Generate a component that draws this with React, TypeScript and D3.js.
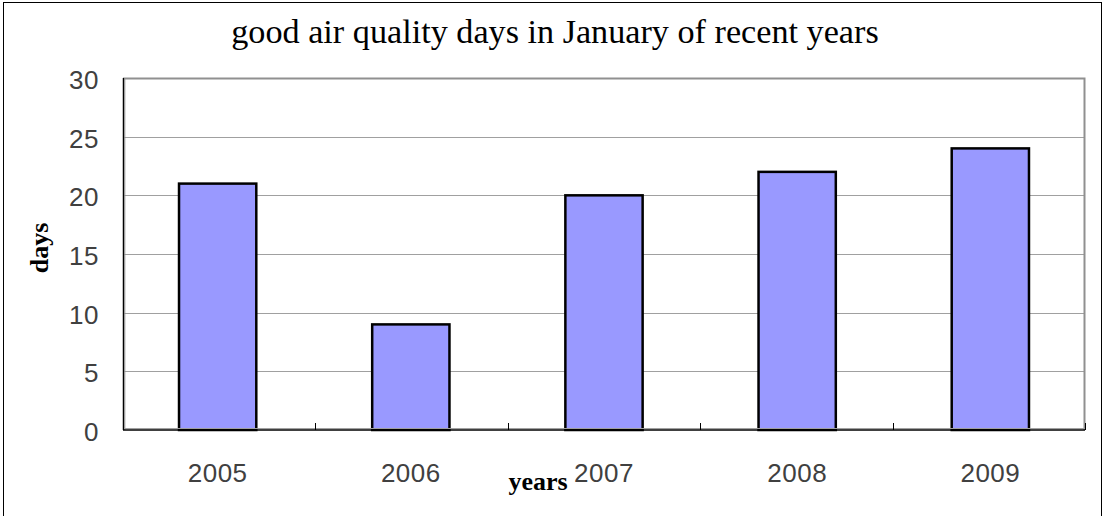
import * as d3 from "d3";

const years = ["2005", "2006", "2007", "2008", "2009"];
const goodDays = [21, 9, 20, 22, 24];
const yTicks = [0, 5, 10, 15, 20, 25, 30];

const W = 1105;
const H = 516;
const margin = { top: 78, right: 20, bottom: 86, left: 123 };

export default function App() {
  const innerW = W - margin.left - margin.right;
  const innerH = H - margin.top - margin.bottom;

  const x = d3
    .scaleBand<string>()
    .domain(years)
    .range([0, innerW])
    .paddingInner(0.6)
    .paddingOuter(0.29);

  const y = d3.scaleLinear().domain([0, 30]).range([innerH, 0]);

  // category boundaries for the little ticks on the bottom axis
  const step = innerW / years.length;
  const boundaries = d3.range(years.length + 1).map((i) => i * step);

  const tickFont = "'Liberation Sans', Arial, sans-serif";
  const serif = "'Liberation Serif', 'Times New Roman', serif";

  return (
    <svg
      width={W}
      height={H}
      style={{ position: "fixed", left: 0, top: 0, background: "#fff" }}
    >
      {/* outer chart frame */}
      <rect
        x={3.5}
        y={2.5}
        width={1098}
        height={530}
        fill="#fff"
        stroke="#000"
        strokeWidth={1}
      />

      <text
        x={555}
        y={43}
        textAnchor="middle"
        fontFamily={serif}
        fontSize={34.2}
        fill="#000"
      >
        good air quality days in January of recent years
      </text>

      <g transform={`translate(${margin.left},${margin.top})`}>
        {/* grid lines */}
        {yTicks.slice(1).map((t) => (
          <line
            key={t}
            x1={0}
            x2={innerW}
            y1={Math.round(y(t)) + 0.5}
            y2={Math.round(y(t)) + 0.5}
            stroke="#a0a0a0"
            strokeWidth={1}
          />
        ))}

        {/* plot area border, top and right */}
        <path
          d={`M0,0.5 H${innerW - 0.5} V${innerH}`}
          fill="none"
          stroke="#909090"
          strokeWidth={2}
        />

        {/* bars */}
        {years.map((yr, i) => (
          <rect
            key={yr}
            x={x(yr)}
            y={y(goodDays[i])}
            width={x.bandwidth()}
            height={innerH - y(goodDays[i])}
            fill="#9999ff"
            stroke="#000"
            strokeWidth={2.5}
          />
        ))}

        {/* axes */}
        <line x1={0.5} x2={0.5} y1={0} y2={innerH} stroke="#000" strokeWidth={1.5} />
        <line x1={1.8} x2={1.8} y1={0} y2={innerH} stroke="#909090" strokeWidth={1} />
        <line x1={0} x2={innerW} y1={innerH} y2={innerH} stroke="#000" strokeWidth={1.5} />
        <line x1={0} x2={innerW} y1={innerH - 1.5} y2={innerH - 1.5} stroke="#a0a0a0" strokeWidth={1} />

        {boundaries.map((b, i) => (
          <line
            key={i}
            x1={Math.round(b) + 0.5}
            x2={Math.round(b) + 0.5}
            y1={innerH}
            y2={innerH - 7}
            stroke="#000"
            strokeWidth={1}
          />
        ))}

        {/* y tick labels */}
        {yTicks.map((t) => (
          <text
            key={t}
            x={-24}
            y={y(t) + 11}
            textAnchor="end"
            fontFamily={tickFont}
            fontSize={26}
            letterSpacing={0.5}
            fill="#404040"
          >
            {t}
          </text>
        ))}

        {/* x tick labels */}
        {years.map((yr) => (
          <text
            key={yr}
            x={(x(yr) ?? 0) + x.bandwidth() / 2}
            y={innerH + 52}
            textAnchor="middle"
            fontFamily={tickFont}
            fontSize={26}
            letterSpacing={0.5}
            fill="#404040"
          >
            {yr}
          </text>
        ))}
      </g>

      {/* axis titles */}
      <text
        x={538}
        y={490}
        textAnchor="middle"
        fontFamily={serif}
        fontWeight="bold"
        fontSize={26}
        fill="#000"
      >
        years
      </text>
      <text
        transform="translate(48,248) rotate(-90)"
        textAnchor="middle"
        fontFamily={serif}
        fontWeight="bold"
        fontSize={26}
        fill="#000"
      >
        days
      </text>
    </svg>
  );
}
